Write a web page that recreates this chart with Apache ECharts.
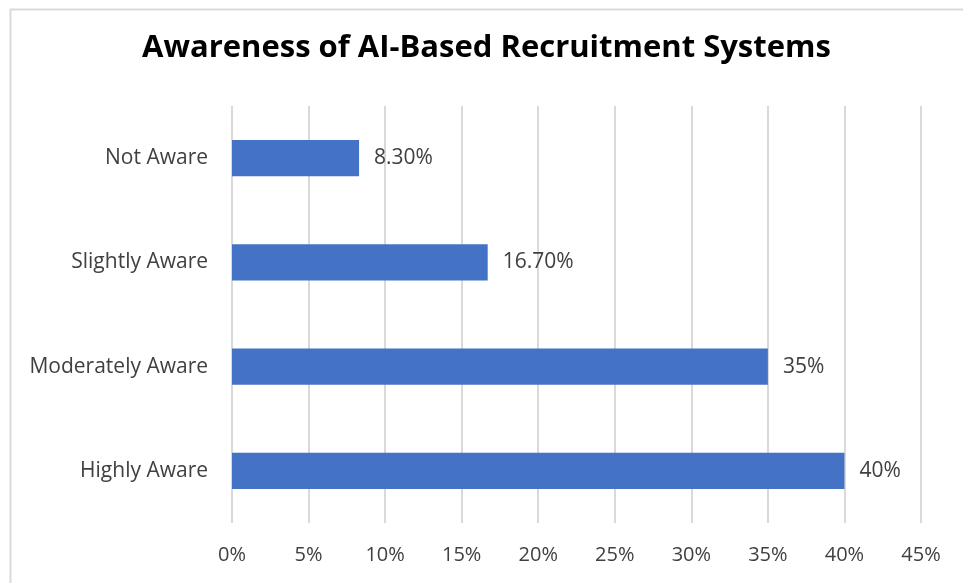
<!DOCTYPE html>
<html><head><meta charset="utf-8">
<script src="https://cdn.jsdelivr.net/npm/echarts@6/dist/echarts.min.js"></script>
<style>html,body{margin:0;padding:0;background:#fff}#c{width:963px;height:583px}</style>
</head><body><div id="c"></div>
<script>
const categories = ["Highly Aware", "Moderately Aware", "Slightly Aware", "Not Aware"];
const values = [40, 35, 16.7, 8.3];
const valueLabels = ["40%", "35%", "16.70%", "8.30%"];
const titleText = "Awareness of AI-Based Recruitment Systems";
const FONT = "Open Sans";
const chart = echarts.init(document.getElementById('c'), null, {renderer: 'canvas'});
chart.setOption({
  animation: false,
  backgroundColor: '#fff',
  graphic: [{type: 'rect', left: 8, top: 7, shape: {width: 1000, height: 1000}, style: {fill: 'none', stroke: '#d9d9d9', lineWidth: 2}}],
  title: {text: titleText, left: 142, top: 33, padding: 0, textStyle: {fontFamily: FONT, fontWeight: 'bold', fontSize: 31, color: '#000'}},
  grid: {left: 232, right: 42, top: 106, bottom: 60},
  xAxis: {type: 'value', min: 0, max: 45, interval: 5,
    axisLine: {show: false}, axisTick: {show: false},
    splitLine: {lineStyle: {color: '#d9d9d9', width: 2}},
    axisLabel: {formatter: '{value}%', margin: 22, fontFamily: FONT, fontSize: 20, color: '#404040'}},
  yAxis: {type: 'category', data: categories,
    axisLine: {show: false}, axisTick: {show: false},
    axisLabel: {margin: 24, fontFamily: FONT, fontSize: 21, color: '#404040'}},
  series: [{type: 'bar', data: values, barWidth: '35%',
    itemStyle: {color: '#4472C4'},
    label: {show: true, position: 'right', distance: 15, fontFamily: FONT, fontSize: 21, color: '#404040',
      formatter: p => valueLabels[p.dataIndex]}}]
});
</script></body></html>
